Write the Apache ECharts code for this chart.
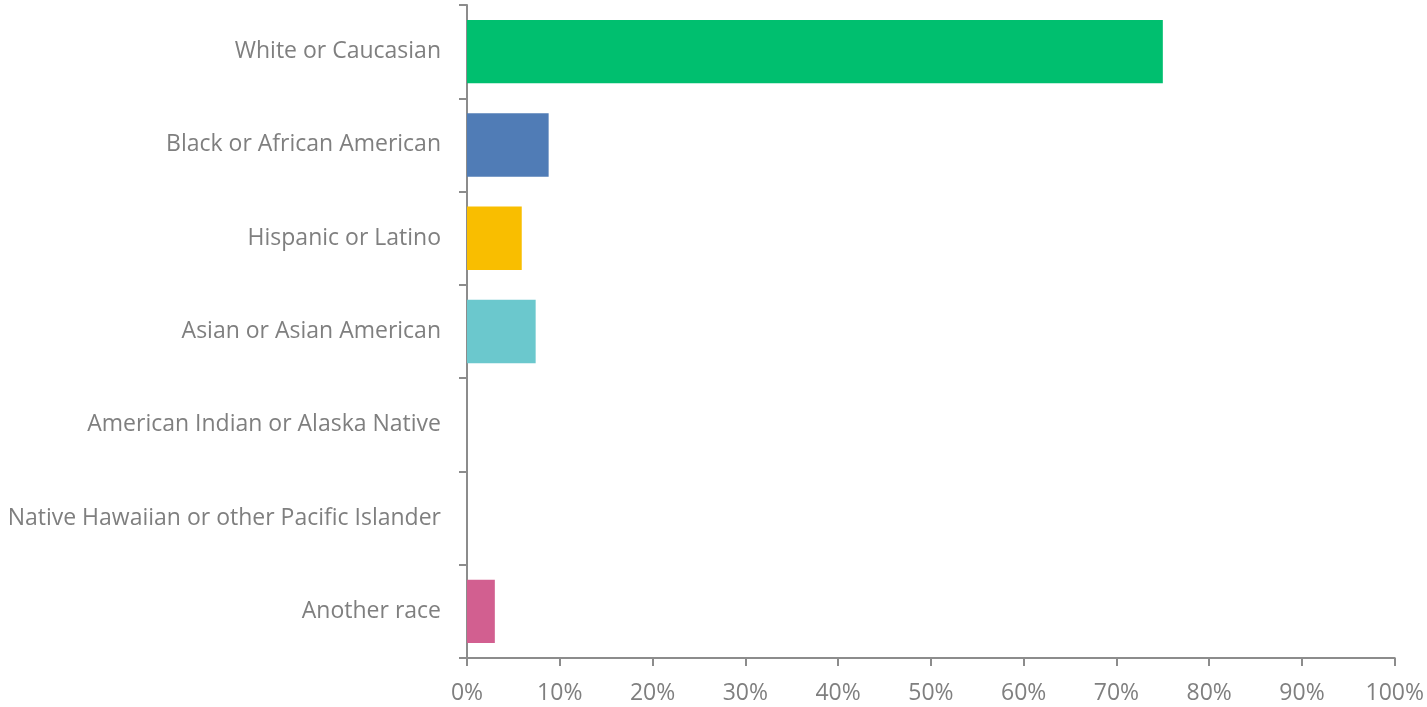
<!DOCTYPE html>
<html><head><meta charset="utf-8">
<script src="https://cdn.jsdelivr.net/npm/echarts@6/dist/echarts.min.js"></script>
<style>html,body{margin:0;padding:0;background:#fff}#c{width:1427px;height:707px}</style>
</head><body><div id="c"></div>
<script>
const categories = ["White or Caucasian","Black or African American","Hispanic or Latino","Asian or Asian American","American Indian or Alaska Native","Native Hawaiian or other Pacific Islander","Another race"];
const values = [75.0, 8.8, 5.9, 7.4, 0, 0, 3.0];
const barColors = ["#00BF6F","#507CB6","#F9BE00","#6BC8CD","#8E6BB0","#5A5A5A","#D25F90"];
const chart = echarts.init(document.getElementById('c'));
const axisColor = '#8c8c8c', textColor = '#7f7f7f', font = 'Open Sans';
chart.setOption({
  animation:false,
  grid:{left:467,right:31,top:5,bottom:49},
  xAxis:{type:'value',min:0,max:100,interval:10,
    axisLine:{show:true,lineStyle:{color:axisColor,width:2}},
    axisTick:{show:true,length:8,lineStyle:{color:axisColor,width:2}},
    splitLine:{show:false},
    axisLabel:{formatter:'{value}%',color:textColor,fontSize:23,fontFamily:font,margin:24}},
  yAxis:{type:'category',inverse:true,data:categories,
    axisLine:{show:true,lineStyle:{color:axisColor,width:2}},
    axisTick:{show:true,length:8,lineStyle:{color:axisColor,width:2}},
    axisLabel:{color:textColor,fontSize:23,fontFamily:font,margin:26}},
  series:[{type:'bar',barCategoryGap:'32%',
    data:values.map((v,i)=>({value:v,itemStyle:{color:barColors[i]}}))}]
});
</script></body></html>
